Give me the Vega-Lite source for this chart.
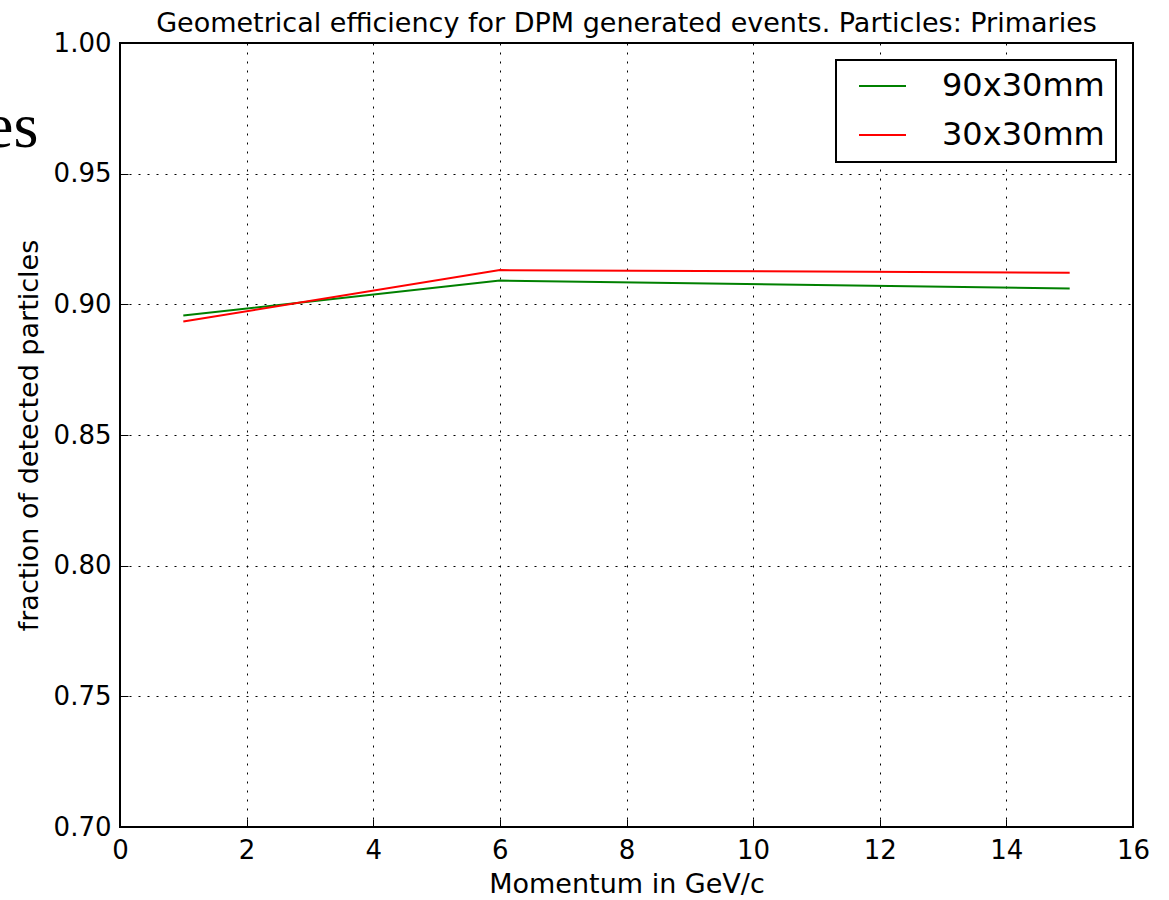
{
  "$schema": "https://vega.github.io/schema/vega-lite/v6.json",
  "autosize": "none",
  "width": 1013,
  "height": 784,
  "padding": {"left": 120, "top": 43, "right": 36, "bottom": 73},
  "background": "white",
  "config": {
    "font": "DejaVu Sans",
    "view": {"stroke": "black", "strokeWidth": 2},
    "axis": {
      "domain": false,
      "grid": true,
      "gridColor": "black",
      "gridDash": [2, 7],
      "gridWidth": 1,
      "gridOpacity": 1,
      "ticks": true,
      "tickSize": -8,
      "tickColor": "black",
      "tickWidth": 1,
      "labelFlush": false,
      "labelColor": "black",
      "labelFont": "DejaVu Sans",
      "labelFontSize": 26,
      "titleFont": "DejaVu Sans",
      "titleFontSize": 27,
      "titleFontWeight": "normal",
      "titleColor": "black"
    },
    "title": {"font": "DejaVu Sans", "fontSize": 27, "fontWeight": "normal", "color": "black"}
  },
  "title": {"text": "Geometrical efficiency for DPM generated events. Particles: Primaries", "anchor": "middle", "offset": -8},
  "datasets": {
    "lines": [
      {"momentum": 1, "fraction": 0.8957, "size": "90x30mm"},
      {"momentum": 6, "fraction": 0.9091, "size": "90x30mm"},
      {"momentum": 15, "fraction": 0.9061, "size": "90x30mm"},
      {"momentum": 1, "fraction": 0.8934, "size": "30x30mm"},
      {"momentum": 6, "fraction": 0.9131, "size": "30x30mm"},
      {"momentum": 15, "fraction": 0.9121, "size": "30x30mm"}
    ],
    "stray": [
      {"momentum": -1.29, "fraction": 0.9602, "label": "es"}
    ]
  },
  "layer": [
    {
      "data": {"name": "lines"},
      "mark": {"type": "line", "strokeWidth": 2},
      "encoding": {
        "x": {
          "field": "momentum", "type": "quantitative",
          "scale": {"domain": [0, 16], "nice": false, "zero": false},
          "axis": {"values": [0, 2, 4, 6, 8, 10, 12, 14, 16], "title": "Momentum in GeV/c", "labelPadding": 18, "titlePadding": 8, "format": "d"}
        },
        "y": {
          "field": "fraction", "type": "quantitative",
          "scale": {"domain": [0.7, 1.0], "nice": false, "zero": false},
          "axis": {"values": [0.7, 0.75, 0.8, 0.85, 0.9, 0.95, 1.0], "format": ".2f", "title": "fraction of detected particles", "labelPadding": 17, "titlePadding": 10}
        },
        "color": {
          "field": "size", "type": "nominal",
          "scale": {"domain": ["90x30mm", "30x30mm"], "range": ["#008000", "#ff0000"]},
          "legend": {
            "title": null,
            "orient": "top-right",
            "offset": 17,
            "strokeColor": "black",
            "fillColor": "white",
            "padding": 11,
            "symbolType": "stroke",
            "symbolSize": 2209,
            "symbolStrokeWidth": 2,
            "symbolOffset": 11,
            "clipHeight": 30,
            "labelFontSize": 32,
            "labelLimit": 400,
            "labelFont": "DejaVu Sans",
            "labelColor": "black",
            "labelOffset": 35,
            "rowPadding": 17,
            "encode": {"legend": {"update": {"strokeWidth": {"value": 2}}}}
          }
        }
      }
    },
    {
      "data": {"name": "stray"},
      "mark": {"type": "text", "align": "right", "baseline": "alphabetic", "font": "Liberation Serif", "fontSize": 64, "color": "black"},
      "encoding": {
        "x": {"field": "momentum", "type": "quantitative"},
        "y": {"field": "fraction", "type": "quantitative"},
        "text": {"field": "label"}
      }
    }
  ]
}
